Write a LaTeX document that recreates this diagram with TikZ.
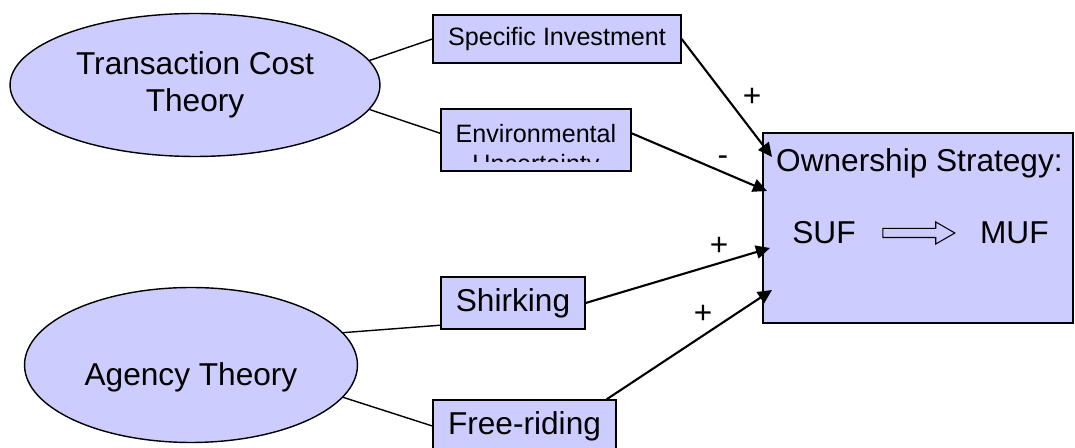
\documentclass[tikz,border=0pt]{standalone}
\usepackage{fontspec}
\setmainfont{Liberation Sans}
\usetikzlibrary{shapes.geometric, shapes.arrows, arrows.meta, positioning}
\definecolor{boxfill}{RGB}{204,204,255}

\begin{document}
\begin{tikzpicture}[x=0.02cm, y=-0.02cm]
    % Styles
    \tikzstyle{theory} = [ellipse, draw=black, line width=0.8pt, fill=boxfill, inner sep=0pt, align=center, font=\fontsize{18}{21}\selectfont]
    \tikzstyle{factor} = [rectangle, draw=black, line width=0.8pt, fill=boxfill, inner sep=0pt, font=\fontsize{18}{21}\selectfont]
    \tikzstyle{smallfactor} = [factor, font=\fontsize{14.3}{17}\selectfont]
    \tikzstyle{outcome} = [rectangle, draw=black, line width=0.8pt, fill=boxfill, minimum width=6.2cm, minimum height=3.8cm]
    \tikzstyle{sign} = [font=\fontsize{18}{21}\selectfont]
    \tikzstyle{link} = [line width=0.8pt]
    \tikzstyle{arrow} = [line width=1.2pt, -{Triangle[length=8pt,width=7.5pt]}]

    \useasboundingbox (0,0) rectangle (1075,448);

    % Theories
    \node (tct) [theory, minimum width=7.4cm, minimum height=2.86cm] at (195,85) {Transaction Cost\\Theory};
    \node (agency) [theory, minimum width=6.66cm, minimum height=3.1cm, label={[yshift=-0.25cm, font=\fontsize{18}{21}\selectfont]center:Agency Theory}] at (191,365) {};

    % Factors
    \node (spec) [smallfactor, minimum width=4.96cm, minimum height=0.96cm] at (557,39) {Specific Investment};
    \node (env) [smallfactor, minimum width=3.8cm, minimum height=1.24cm, path picture={
        \clip (path picture bounding box.north west) rectangle ([yshift=0.19cm]path picture bounding box.south east);
        \node [anchor=north, align=center, inner sep=0pt, font=\fontsize{14.3}{17}\selectfont] at ([yshift=-0.2cm]path picture bounding box.north) {Environmental\\Uncertainty};
    }] at (536,140) {};
    \node (shirk) [factor, minimum width=2.88cm, minimum height=1.04cm] at (513,303) {Shirking};
    \node (free) [factor, minimum width=3.66cm, minimum height=1.04cm] at (524.5,426) {Free-riding};

    % Ownership strategy
    \node (own) [outcome] at (918,228) {};
    \node (title) [sign, anchor=west] at (770,163) {Ownership Strategy:};
    \node (suf) [sign] at (824,233) {SUF};
    \node (shift) [single arrow, draw=black, line width=0.6pt, fill=boxfill, inner sep=0.08cm, single arrow head extend=0.13cm, single arrow tip angle=60, minimum height=1.44cm, right=0.41cm of suf] {};
    \node (muf) [sign, right=0.36cm of shift] {MUF};

    % Arrow ends
    \coordinate (in1) at (772,157);
    \coordinate (in2) at (767,191);
    \coordinate (in3) at (770,248);
    \coordinate (in4) at (772,290);

    % Lines
    \draw [link] (tct.8) -- (spec.west);
    \draw [link] (tct.-8) -- (env.176);
    \draw [link] (agency.12) -- (shirk.197);
    \draw [link] (agency.-12) -- (free.west);

    % Arrows
    \draw [arrow] (spec.east) -- (in1);
    \draw [arrow] (env.4) -- (in2);
    \draw [arrow] (shirk.east) -- (in3);
    \draw [arrow] (free.18) -- (in4);

    % Signs
    \node (s1) [sign] at (752,97) {+};
    \node (s2) [sign] at (723,161) {-};
    \node (s3) [sign] at (719,246) {+};
    \node (s4) [sign] at (703,314) {+};

\end{tikzpicture}
\end{document}
